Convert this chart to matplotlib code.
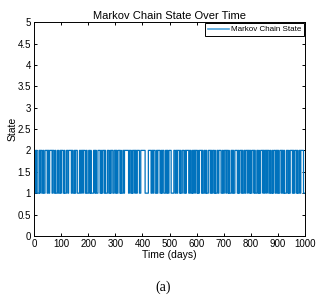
import numpy as np
import matplotlib
matplotlib.use("Agg")
import matplotlib.pyplot as plt

# run lengths (days) of the chain, alternating states starting from first_state
first_state = 2
run_days = [
    5, 3, 4, 7, 2, 2, 6, 4, 3, 5, 8, 2, 4, 3, 9, 2, 5, 4, 3, 6, 4, 5,
    3, 2, 7, 4, 2, 6, 5, 3, 10, 2, 4, 5, 3, 2, 6, 8, 4, 3, 5, 2, 7, 4, 3, 6,
    4, 3, 2, 9, 5, 2, 3, 6, 8, 3, 2, 4, 6, 2, 3, 7, 5, 4, 2, 3, 6, 5,
    5, 2, 3, 4, 7, 3, 2, 6, 4, 2, 15, 3, 5, 4, 2, 3, 6, 2, 4, 3, 8, 5, 16, 12,
    10, 3, 4, 2, 6, 5, 3, 2, 8, 4, 2, 3, 5, 6, 4, 2, 3, 4,
    8, 10, 5, 3, 4, 2, 7, 3, 2, 5, 6, 4, 3, 2, 9, 3, 4, 5, 2, 3, 5, 2,
    6, 3, 2, 4, 8, 2, 3, 5, 4, 3, 2, 6, 7, 2, 3, 4, 5, 3, 2, 6, 4, 3, 8, 5,
    3, 4, 6, 2, 5, 3, 2, 7, 4, 2, 3, 5, 9, 3, 2, 4, 6, 2, 3, 5, 4, 3, 6, 2,
    5, 3, 2, 4, 7, 2, 3, 6, 4, 3, 2, 5, 8, 2, 4, 3, 5, 2, 6, 4, 3, 5, 2, 4, 6, 3,
    4, 2, 3, 5, 6, 2, 4, 3, 2, 7, 5, 3, 2, 4, 8, 2, 3, 4, 6, 3, 2, 5, 4, 2, 10, 6,
]
n_days = 1000
x_ticks = list(range(0, 1001, 100))
y_ticks = [0, 0.5, 1, 1.5, 2, 2.5, 3, 3.5, 4, 4.5, 5]
y_tick_labels = ["0", "0.5", "1", "1.5", "2", "2.5", "3", "3.5", "4", "4.5", "5"]

states = [first_state if i % 2 == 0 else 3 - first_state for i in range(len(run_days))]
daily = np.repeat(states, run_days)[:n_days + 1]
t = np.arange(len(daily))

plt.rcParams['font.family'] = ['Liberation Sans', 'DejaVu Sans']

fig = plt.figure(figsize=(3.26, 2.99), dpi=100)
ax = fig.add_axes([0.104, 0.211, 0.832, 0.715])

ax.step(t, daily, where='post', color='#0072BD', lw=0.9, label='Markov Chain State')

ax.set_xlim(0, 1000)
ax.set_ylim(0, 5)
ax.set_xticks(x_ticks)
ax.set_yticks(y_ticks)
ax.set_yticklabels(y_tick_labels)
ax.tick_params(direction='in', top=True, right=True, labelsize=7, length=2.5,
               width=0.7, pad=2)
for s in ax.spines.values():
    s.set_linewidth(0.7)

ax.set_title("Markov Chain State Over Time", fontsize=8, pad=2)
ax.set_xlabel("Time (days)", fontsize=7.5, labelpad=1)
ax.set_ylabel("State", fontsize=7.5, labelpad=0)

leg = ax.legend(loc='upper right', fontsize=5.8, fancybox=False, framealpha=1,
                edgecolor='black', borderaxespad=0.15, handlelength=2.6,
                borderpad=0.3, handletextpad=0.3)
leg.get_frame().set_linewidth(0.7)
for h in leg.get_lines():
    h.set_linewidth(1.2)
    h.set_color('#4DA3DC')

fig.text(0.5, 0.04, "(a)", ha='center', va='center', fontsize=10,
         family=['Liberation Serif', 'DejaVu Serif'])

fig.savefig("out.png", dpi=100)
